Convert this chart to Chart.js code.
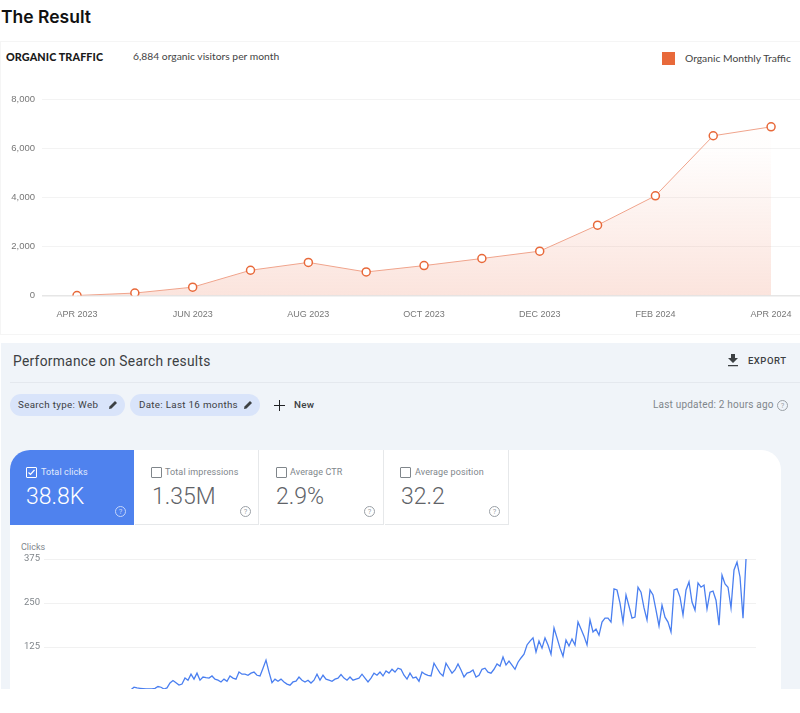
<!DOCTYPE html>
<html>
<head>
<meta charset="utf-8">
<script src="https://cdn.jsdelivr.net/npm/chart.js@4"></script>
<style>
html, body { margin: 0; padding: 0; background: #fff; }
#page { position: relative; width: 800px; height: 713px; overflow: hidden; font-family: Roboto, sans-serif; }
.t { position: absolute; white-space: nowrap; line-height: 1; }
.box { position: absolute; }
canvas { position: absolute; }
.chip { position: absolute; top: 394px; height: 22px; border-radius: 11px; background: #d9e4fa; }
.tile { position: absolute; top: 450px; height: 75px; width: 124px; box-sizing: border-box; border-right: 1px solid #e6e8ea; border-bottom: 1px solid #e6e8ea; }
.cb { position: absolute; top: 467px; width: 9px; height: 9px; border: 1px solid #80868b; border-radius: 1px; }
.help { position: absolute; top: 506px; width: 9px; height: 9px; border: 1px solid #9aa0a6; border-radius: 50%; color: #9aa0a6; font-size: 7.5px; line-height: 9px; text-align: center; }
.lbl { top: 468px; font-size: 9px; color: #80868b; letter-spacing: .12px; }
.val { top: 485px; font-size: 23px; font-weight: 300; color: #5f6368; }
</style>
</head>
<body>
<div id="page">
  <div class="t" style="left:1px;top:6px;font:600 17.5px Inter,sans-serif;color:#111">The Result</div>

  <div class="box" style="left:0;top:41px;width:800px;height:294px;box-sizing:border-box;border:1px solid #f5f5f5;border-right:0"></div>
  <div class="t" style="left:6px;top:50px;font:900 10.8px Lato,sans-serif;color:#1a1a1a;letter-spacing:.1px">ORGANIC TRAFFIC</div>
  <div class="t" style="left:133px;top:50px;font:400 10.3px Lato,sans-serif;color:#444">6,884 organic visitors per month</div>
  <div class="box" style="left:662px;top:52px;width:13px;height:13px;background:#e8693a"></div>
  <div class="t" style="left:685px;top:52px;font:400 10.3px Lato,sans-serif;color:#444">Organic Monthly Traffic</div>
  <canvas id="trafficChart" width="800" height="240" style="left:0;top:90px"></canvas>

  <div class="box" style="left:1px;top:343px;width:799px;height:346px;background:#f0f4f9"></div>
  <div class="t" style="left:13px;top:355px;font-size:13.8px;color:#3c4043;letter-spacing:.28px">Performance on Search results</div>
  <div class="box" style="left:10px;top:382px;width:790px;height:1px;background:#e4e8ee"></div>
  <svg class="box" style="left:727px;top:354px" width="12" height="13" viewBox="0 0 12 13"><path d="M4 0h4v4h3L6 9 1 4h3zM1 11h10v1.2H1z" fill="#3c4043"/></svg>
  <div class="t" style="left:748px;top:356px;font-size:9.5px;font-weight:500;color:#3c4043;letter-spacing:.5px">EXPORT</div>

  <div class="chip" style="left:10px;width:115px"></div>
  <div class="t" style="left:18px;top:400px;font-size:9.8px;color:#3c4043;letter-spacing:.32px">Search type: Web</div>
  <svg class="box" style="left:108px;top:400px" width="10" height="10" viewBox="0 0 10 10"><path d="M1 9l.5-2.5L7 1l2 2-5.5 5.5z" fill="#3c4043"/></svg>
  <div class="chip" style="left:130px;width:130px"></div>
  <div class="t" style="left:139px;top:400px;font-size:9.8px;color:#3c4043;letter-spacing:.3px">Date: Last 16 months</div>
  <svg class="box" style="left:243px;top:400px" width="10" height="10" viewBox="0 0 10 10"><path d="M1 9l.5-2.5L7 1l2 2-5.5 5.5z" fill="#3c4043"/></svg>
  <svg class="box" style="left:274px;top:400px" width="11" height="11" viewBox="0 0 11 11"><path d="M5 0h1v5h5v1H6v5H5V6H0V5h5z" fill="#202124"/></svg>
  <div class="t" style="left:294px;top:400px;font-size:9.8px;font-weight:500;color:#3c4043;letter-spacing:.3px">New</div>
  <div class="t" style="left:653px;top:400px;font-size:10px;color:#80868b;letter-spacing:.2px">Last updated: 2 hours ago</div>
  <div class="help" style="left:777px;top:400px">?</div>

  <div class="box" style="left:10px;top:450px;width:771px;height:239px;background:#fff;border-radius:20px 20px 0 0"></div>
  <div class="box" style="left:10px;top:450px;width:124px;height:75px;background:#4f82ee;border-radius:20px 0 0 0"></div>
  <div class="tile" style="left:135px"></div>
  <div class="tile" style="left:260px"></div>
  <div class="tile" style="left:385px"></div>

  <div class="cb" style="left:26px;border-color:#fff"></div>
  <svg class="box" style="left:27px;top:468px" width="9" height="9" viewBox="0 0 9 9"><path d="M1.5 4.5l2 2 4-4.5" fill="none" stroke="#fff" stroke-width="1.2"/></svg>
  <div class="t lbl" style="left:41px;color:#e3ebfc">Total clicks</div>
  <div class="t val" style="left:26px;color:#fff">38.8K</div>
  <div class="help" style="left:115px;border-color:#c5d6fa;color:#c5d6fa">?</div>

  <div class="cb" style="left:151px"></div>
  <div class="t lbl" style="left:165px">Total impressions</div>
  <div class="t val" style="left:152px">1.35M</div>
  <div class="help" style="left:240px">?</div>

  <div class="cb" style="left:276px"></div>
  <div class="t lbl" style="left:290px">Average CTR</div>
  <div class="t val" style="left:276px">2.9%</div>
  <div class="help" style="left:364px">?</div>

  <div class="cb" style="left:400px"></div>
  <div class="t lbl" style="left:415px">Average position</div>
  <div class="t val" style="left:401px">32.2</div>
  <div class="help" style="left:489px">?</div>

  <div class="t" style="left:21px;top:543px;font-size:9px;color:#80868b">Clicks</div>
  <canvas id="clicksChart" width="781" height="144" style="left:0;top:545px"></canvas>
</div>

<script>
var trafficMonths = ["APR 2023", "MAY 2023", "JUN 2023", "JUL 2023", "AUG 2023", "SEP 2023", "OCT 2023", "NOV 2023", "DEC 2023", "JAN 2024", "FEB 2024", "MAR 2024", "APR 2024"];
var trafficValues = [0, 100, 340, 1030, 1350, 960, 1220, 1510, 1810, 2870, 4070, 6520, 6884];
var trafficTicks = [0, 2000, 4000, 6000, 8000];

var clickTicks = [125, 250, 375];
var clickValues = [
    4, 11, 9, 8, 7, 6, 6, 6, 8, 13, 11, 6, 9, 23, 30, 24, 17, 20, 37, 31, 48, 34, 51, 31, 40,
    38, 37, 43, 34, 31, 26, 34, 28, 43, 37, 34, 54, 48, 48, 45, 51, 54, 45, 43, 65, 88, 54, 24, 34,
    28, 34, 26, 20, 17, 26, 28, 40, 31, 26, 31, 23, 31, 48, 31, 45, 34, 31, 28, 34, 37, 47, 37, 31,
    40, 31, 34, 37, 48, 37, 26, 37, 51, 45, 54, 43, 57, 51, 62, 54, 65, 62, 45, 34, 51, 37, 40, 28,
    54, 48, 45, 43, 79, 65, 51, 43, 79, 65, 51, 60, 77, 60, 40, 51, 54, 60, 40, 45, 62, 65, 54, 51,
    62, 77, 71, 97, 74, 85, 74, 62, 82, 94, 105, 131, 142, 151, 111, 142, 122, 151, 131, 105, 179,
    151, 122, 99, 145, 128, 148, 131, 196, 176, 156, 131, 202, 168, 176, 159, 196, 207, 207, 196,
    290, 287, 250, 196, 273, 241, 207, 210, 295, 281, 236, 202, 287, 273, 230, 185, 244, 210, 196,
    168, 287, 290, 267, 216, 287, 310, 253, 230, 307, 295, 301, 233, 281, 284, 258, 187, 329, 304,
    295, 236, 344, 366, 324, 207, 375
];

function setTicks(values) {
    return function (axis) {
        axis.ticks = values.map(function (v) { return { value: v }; });
    };
}

function toPoints(values) {
    return values.map(function (v, i) { return { x: i, y: v }; });
}

// stop the tick labels from pushing the plot area inwards
function fixAxis(width, height) {
    return function (axis) {
        if (width) axis.width = width;
        if (height) axis.height = height;
        axis.paddingLeft = axis.paddingRight = axis.paddingTop = axis.paddingBottom = 0;
    };
}

new Chart(document.getElementById("trafficChart").getContext("2d"), {
    type: "line",
    data: {
        datasets: [{
            data: toPoints(trafficValues),
            borderColor: "#f0a48c",
            borderWidth: 1,
            lineTension: 0,
            fill: "origin",
            backgroundColor: function (context) {
                var area = context.chart.chartArea;
                if (!area) return "transparent";
                var g = context.chart.ctx.createLinearGradient(0, area.bottom, 0, area.bottom - 145);
                g.addColorStop(0, "rgba(236,120,85,0.2)");
                g.addColorStop(1, "rgba(236,120,85,0.01)");
                return g;
            },
            pointRadius: 4,
            pointBorderWidth: 1.5,
            pointBackgroundColor: "#fff",
            pointBorderColor: "#e8693a"
        }]
    },
    options: {
        responsive: false,
        animation: false,
        layout: { autoPadding: false, padding: { top: 9.5 } },
        plugins: { legend: { display: false }, tooltip: { enabled: false } },
        scales: {
            x: {
                type: "linear",
                bounds: "data",
                min: -0.605,
                max: 12.5,
                afterBuildTicks: setTicks([0, 2, 4, 6, 8, 10, 12]),
                afterFit: fixAxis(0, 34.5),
                grid: { display: false },
                border: { display: false },
                ticks: {
                    autoSkip: false,
                    maxRotation: 0,
                    padding: 6,
                    color: "#777",
                    font: { family: "Liberation Sans", size: 9 },
                    callback: function (value) { return trafficMonths[value]; }
                }
            },
            y: {
                min: 0,
                max: 8000,
                afterBuildTicks: setTicks(trafficTicks),
                afterFit: fixAxis(42, 0),
                grid: {
                    drawTicks: false,
                    color: function (c) { return c.tick.value === 0 ? "#e6e6e6" : "#f3f3f3"; },
                    lineWidth: function (c) { return c.tick.value === 0 ? 1.5 : 1; }
                },
                border: { display: false },
                ticks: {
                    padding: 7,
                    color: "#777",
                    font: { family: "Liberation Sans", size: 9.5 },
                    callback: function (value) { return value.toLocaleString("en-US"); }
                }
            }
        }
    }
});

new Chart(document.getElementById("clicksChart").getContext("2d"), {
    type: "line",
    data: {
        datasets: [{
            data: toPoints(clickValues),
            borderColor: "#4a7ff0",
            borderWidth: 1.3,
            lineTension: 0,
            fill: false,
            pointRadius: 0,
            clip: false
        }]
    },
    options: {
        responsive: false,
        animation: false,
        layout: { autoPadding: false, padding: { top: 14, right: 25 } },
        plugins: { legend: { display: false }, tooltip: { enabled: false } },
        scales: {
            x: { type: "linear", display: false, min: -29, max: 208.33 },
            y: {
                min: 6,
                max: 375,
                afterBuildTicks: setTicks(clickTicks),
                afterFit: fixAxis(44, 0),
                grid: { drawTicks: false, color: "#f1f1f1" },
                border: { display: false },
                ticks: {
                    padding: 4,
                    color: "#80868b",
                    font: { family: "Roboto", size: 9.5 }
                }
            }
        }
    }
});
</script>
</body>
</html>
